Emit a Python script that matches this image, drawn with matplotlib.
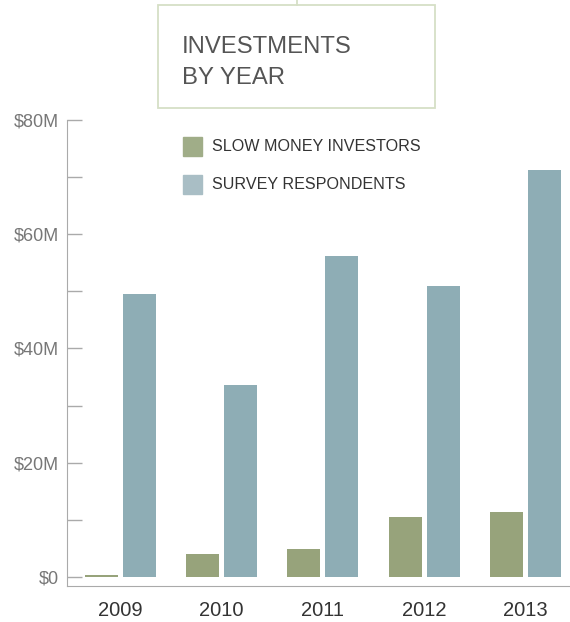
import numpy as np
import matplotlib
matplotlib.use('Agg')
import matplotlib.pyplot as plt
from matplotlib.patches import Rectangle
from matplotlib.lines import Line2D

plt.rcParams['font.family'] = ['Liberation Sans', 'DejaVu Sans']

years = ['2009', '2010', '2011', '2012', '2013']
slow_money = [0.3, 4.0, 4.9, 10.5, 11.4]
survey = [49.6, 33.6, 56.2, 51.0, 71.3]
yticks = [0, 20, 40, 60, 80]
ytick_labels = ['$0', '$20M', '$40M', '$60M', '$80M']
series_names = ['SLOW MONEY INVESTORS', 'SURVEY RESPONDENTS']

W, H = 570, 622
fig = plt.figure(figsize=(W / 100, H / 100), dpi=100)

def fx(px):
    return px / W

def fy(py):
    return 1 - py / H

ax = fig.add_axes([fx(67), fy(586), fx(570 - 67), (586 - 120) / H])

x = np.arange(len(years))
w = 0.326
ax.bar(x - 0.188, slow_money, w, color='#97a37b')
ax.bar(x + 0.188, survey, w, color='#8eadb5')

ax.set_xlim(-0.528, 4.44)
ax.set_ylim(-1.58, 80)
ax.set_xticks(x)
ax.set_xticklabels(years, fontsize=14.5, color='#333333')
ax.tick_params(axis='x', length=0, pad=11)
ax.set_yticks(yticks)
ax.set_yticklabels(ytick_labels, fontsize=13, color='#777777')
ax.set_yticks([10, 30, 50, 70], minor=True)
ax.tick_params(axis='y', which='both', direction='in', length=11, width=1,
               color='#aaaaaa', pad=6)
for s in ['top', 'right']:
    ax.spines[s].set_visible(False)
ax.spines['left'].set_color('#aaaaaa')
ax.spines['bottom'].set_color('#aaaaaa')
ax.spines['left'].set_bounds(-1.58, 80)

# title box
fig.patches.append(Rectangle((fx(158), fy(108)), fx(435 - 158), (108 - 5) / H,
                             transform=fig.transFigure, fill=False,
                             edgecolor='#d6dfc6', linewidth=1.3))
fig.lines.append(Line2D([fx(297), fx(297)], [fy(0), fy(5)],
                        transform=fig.transFigure, color='#d6dfc6', linewidth=1.3))
fig.text(fx(182), fy(53), 'INVESTMENTS', fontsize=17.2, color='#555555', va='baseline')
fig.text(fx(182), fy(84), 'BY YEAR', fontsize=17.2, color='#555555', va='baseline')

# legend
legend_colors = ['#a0ad88', '#a9bec5']
for i, (name, c) in enumerate(zip(series_names, legend_colors)):
    top = 137 + i * 38
    fig.patches.append(Rectangle((fx(183), fy(top + 19)), fx(19), 19 / H,
                                 transform=fig.transFigure, color=c))
    fig.text(fx(212), fy(top + 9.5), name, fontsize=11.6, color='#333333', va='center')

fig.savefig('out.png', dpi=100)
